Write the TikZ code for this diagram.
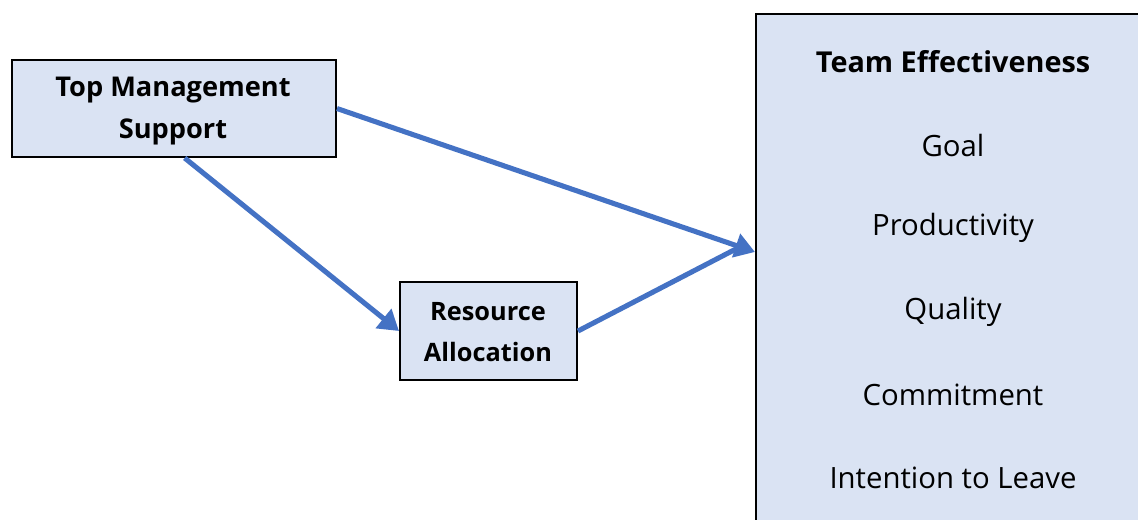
\documentclass[tikz,border=0pt]{standalone}
\usepackage{fontspec}
\setmainfont{Open Sans}
\usetikzlibrary{arrows.meta}
\definecolor{boxfill}{HTML}{DAE3F3}
\definecolor{arrowblue}{HTML}{4472C4}
\tikzset{
  box/.style={draw=black, line width=1.5pt, fill=boxfill, inner sep=0pt},
  lbl/.style={font=\bfseries\fontsize{#1}{31}\selectfont, align=center},
  item/.style={font=\fontsize{22}{24}\selectfont},
  conn/.style={draw=arrowblue, line width=3.8pt, -{Triangle[length=15pt,width=18pt]}}
}
\begin{document}
\begin{tikzpicture}[x=0.75pt,y=-0.75pt]
\useasboundingbox (0,0) rectangle (1138,519);
\clip (0,0) rectangle (1138,519);
\node[box, minimum width=324*0.75pt, minimum height=97*0.75pt] (tm) at (174,108.5) {};
\node[lbl=20.4] at (173,111) {Top Management\\Support};
\node[box, minimum width=177*0.75pt, minimum height=98*0.75pt] (ra) at (488.5,331) {};
\node[lbl=19] at (488,332) {Resource\\Allocation};
\node[box, minimum width=420*0.75pt, minimum height=540*0.75pt, anchor=north west] (te) at (755,13) {};
\node[lbl=21.6] (t0) at (953,62) {Team Effectiveness};
\node[item] (t1) at (953,145) {Goal};
\node[item] (t2) at (953,228) {Productivity};
\node[item] (t3) at (953,312) {Quality};
\node[item] (t4) at (953,395) {Commitment};
\node[item] (t5) at (953,478) {Intention to Leave};
\coordinate (tip) at (te.west |- 0,252);
\draw[conn] (tm.east) -- (tip);
\draw[conn] ([xshift=8pt]tm.south) -- (ra.west);
\draw[conn, -] (ra.east) -- ([xshift=-10pt, yshift=4.5pt]tip);
\end{tikzpicture}
\end{document}
